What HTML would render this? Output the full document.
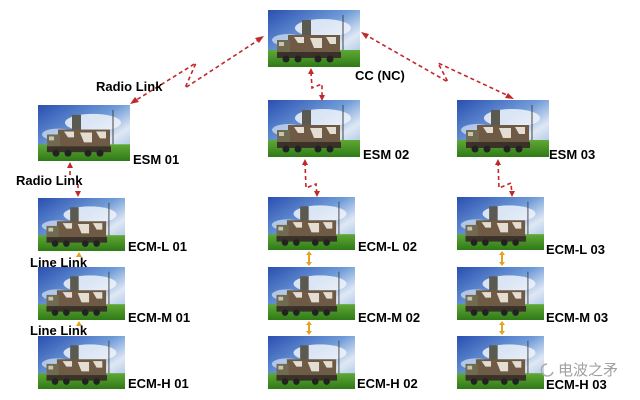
<!DOCTYPE html>
<html><head><meta charset="utf-8"><style>
html,body{margin:0;padding:0;background:#fff;}
svg{display:block}
text{font-family:"Liberation Sans",Arial,sans-serif;font-weight:bold;font-size:13px;fill:#000;}
</style></head><body>
<svg width="640" height="400" viewBox="0 0 640 400" xmlns="http://www.w3.org/2000/svg">
<defs>
<linearGradient id="sky" x1="0" y1="0" x2="1" y2="1">
<stop offset="0" stop-color="#2a4fb0"/><stop offset="0.45" stop-color="#6f9bd8"/><stop offset="0.7" stop-color="#dfe8f4"/><stop offset="1" stop-color="#8fb3e0"/>
</linearGradient>
<linearGradient id="grass" x1="0" y1="0" x2="0" y2="1">
<stop offset="0" stop-color="#5fa835"/><stop offset="1" stop-color="#2f7a18"/>
</linearGradient>
<symbol id="pic" viewBox="0 0 92 57" preserveAspectRatio="none">
<rect width="92" height="57" fill="url(#sky)"/>
<ellipse cx="55" cy="18" rx="28" ry="9" fill="#eef3fa" opacity="0.85"/>
<ellipse cx="20" cy="30" rx="16" ry="6" fill="#eef3fa" opacity="0.6"/>
<rect y="40" width="92" height="17" fill="url(#grass)"/>
<rect x="34" y="10" width="9" height="16" fill="#5a5a50"/>
<rect x="20" y="25" width="52" height="17" fill="#6e5a45"/>
<path d="M26 27 h10 v6 h-6 z M42 28 h12 v10 h-8 z M58 27 h10 v7 h-6 z" fill="#e4ded2"/>
<rect x="9" y="30" width="13" height="12" fill="#6f6a50"/>
<path d="M11 32 h5 v4 h-5 z" fill="#c8c4b0"/>
<rect x="9" y="42" width="64" height="6" fill="#3a3228"/>
<circle cx="18" cy="49" r="3.5" fill="#222"/><circle cx="30" cy="49" r="3.5" fill="#222"/><circle cx="50" cy="49" r="3.5" fill="#222"/><circle cx="62" cy="49" r="3.5" fill="#222"/>
<line x1="75" y1="5" x2="75" y2="40" stroke="#444" stroke-width="1"/>
</symbol>
</defs>

<use href="#pic" x="268" y="10" width="92" height="57"/>
<use href="#pic" x="38" y="105" width="92" height="56"/>
<use href="#pic" x="268" y="100" width="92" height="57"/>
<use href="#pic" x="457" y="100" width="92" height="57"/>
<use href="#pic" x="38" y="198" width="87" height="53"/>
<use href="#pic" x="38" y="267" width="87" height="53"/>
<use href="#pic" x="38" y="336" width="87" height="53"/>
<use href="#pic" x="268" y="197" width="87" height="53"/>
<use href="#pic" x="268" y="267" width="87" height="53"/>
<use href="#pic" x="268" y="336" width="87" height="53"/>
<use href="#pic" x="457" y="197" width="87" height="53"/>
<use href="#pic" x="457" y="267" width="87" height="53"/>
<use href="#pic" x="457" y="336" width="87" height="53"/>

<g fill="none" stroke="#c0282a" stroke-width="1.6" stroke-dasharray="4,3">
<polyline points="260,39 185,88 196,63 133,102"/>
<polyline points="364,34 448,82 438,63 511,97"/>
<polyline points="311,72 312,88 322,84 322,98"/>
<polyline points="305,162 306,188 316,184 317,195"/>
<polyline points="498,162 499,188 511,183 512,195"/>
<polyline points="70,164 70,178"/>
<line x1="78" y1="184" x2="78" y2="195"/>
</g>
<g fill="#c0282a">
<polygon points="264,36 255,38 259,43"/>
<polygon points="130,104 139,102 135,97"/>
<polygon points="361,32 366,39 369,34"/>
<polygon points="514,99 505,98 508,93"/>
<polygon points="311,68 308,74 314,74"/>
<polygon points="322,101 319,95 325,95"/>
<polygon points="305,159 302,165 308,165"/>
<polygon points="317,197 314,191 320,191"/>
<polygon points="498,159 495,165 501,165"/>
<polygon points="512,197 509,191 515,191"/>
<polygon points="70,162 67,168 73,168"/>
<polygon points="78,197 75,191 81,191"/>
</g>
<g stroke="#e8a020" stroke-width="2" fill="#e8a020">
<line x1="309" y1="253" x2="309" y2="264"/><polygon points="309,251 306,255 312,255" stroke="none"/><polygon points="309,266 306,262 312,262" stroke="none"/>
<line x1="309" y1="323" x2="309" y2="333"/><polygon points="309,321 306,325 312,325" stroke="none"/><polygon points="309,335 306,331 312,331" stroke="none"/>
<line x1="502" y1="253" x2="502" y2="264"/><polygon points="502,251 499,255 505,255" stroke="none"/><polygon points="502,266 499,262 505,262" stroke="none"/>
<line x1="502" y1="323" x2="502" y2="333"/><polygon points="502,321 499,325 505,325" stroke="none"/><polygon points="502,335 499,331 505,331" stroke="none"/>
<polygon points="79,252 76,257 82,257" stroke="none"/>
<polygon points="79,321 76,326 82,326" stroke="none"/>
</g>

<text x="355" y="80">CC (NC)</text>
<text x="96" y="91">Radio Link</text>
<text x="133" y="164">ESM 01</text>
<text x="363" y="159">ESM 02</text>
<text x="549" y="159">ESM 03</text>
<text x="16" y="185">Radio Link</text>
<text x="128" y="251">ECM-L 01</text>
<text x="30" y="267">Line Link</text>
<text x="128" y="322">ECM-M 01</text>
<text x="30" y="335">Line Link</text>
<text x="128" y="388">ECM-H 01</text>
<text x="358" y="251">ECM-L 02</text>
<text x="358" y="322">ECM-M 02</text>
<text x="357" y="388">ECM-H 02</text>
<text x="546" y="254">ECM-L 03</text>
<text x="546" y="322">ECM-M 03</text>
<text x="546" y="389">ECM-H 03</text>
<path d="M547 364 a6 6 0 1 0 6 8" fill="none" stroke="#aaa" stroke-width="1.5"/>
<text x="558" y="375" style="font-family:'Liberation Sans','Noto Sans CJK SC',sans-serif;font-weight:normal;font-size:15px;fill:#a0a0a0;">电波之矛</text>
</svg>
</body></html>
